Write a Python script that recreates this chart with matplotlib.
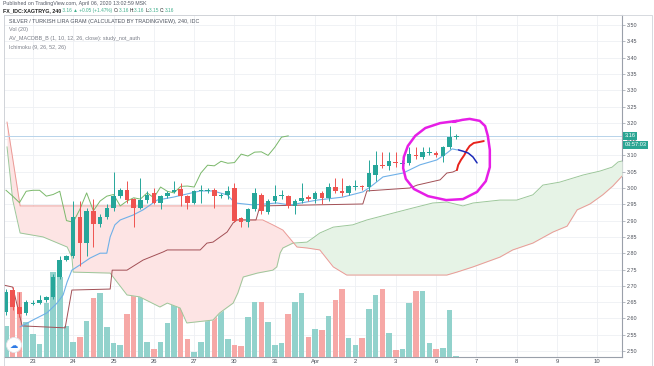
import numpy as np
import matplotlib
matplotlib.use("Agg")
import matplotlib.pyplot as plt
from matplotlib.patches import Ellipse, Rectangle
import matplotlib.transforms as mtransforms

plt.rcParams['font.family'] = ['Liberation Sans', 'DejaVu Sans']

# 4h candles, bar 0 = first visible bar (Mar 20)
opens = [2.620, 2.687, 2.635, 2.617, 2.645, 2.648, 2.655, 2.666, 2.727, 2.780,
         2.790, 2.910, 2.830, 2.930, 2.890, 2.910, 2.940, 2.975, 2.995, 2.965,
         2.940, 2.963, 2.985, 2.955, 2.975, 2.988, 2.997, 2.975, 2.955, 2.990,
         2.990, 2.995, 2.975, 2.980, 3.000, 2.908, 2.895, 2.935, 2.980, 2.925,
         2.960, 2.976, 2.975, 2.945, 2.960, 2.972, 2.966, 2.985, 2.968, 3.003,
         2.990, 2.985, 3.002, 3.006, 3.003, 3.040, 3.072, 3.066, 3.080, 3.075,
         3.077, 3.102, 3.095, 3.108, 3.108, 3.098, 3.125, 3.156]
closes = [2.680, 2.635, 2.615, 2.650, 2.648, 2.655, 2.666, 2.727, 2.780, 2.790,
          2.910, 2.830, 2.930, 2.890, 2.910, 2.940, 2.975, 2.995, 2.963, 2.940,
          2.963, 2.980, 2.955, 2.975, 2.985, 2.993, 2.975, 2.955, 2.990, 2.993,
          2.993, 2.975, 2.980, 2.990, 2.900, 2.895, 2.935, 2.985, 2.930, 2.960,
          2.975, 2.980, 2.945, 2.960, 2.970, 2.966, 2.985, 2.970, 3.003, 2.990,
          2.985, 3.005, 3.006, 3.003, 3.046, 3.070, 3.068, 3.082, 3.076, 3.078,
          3.104, 3.098, 3.110, 3.111, 3.100, 3.125, 3.156, 3.160]
highs = [2.690, 2.695, 2.680, 2.655, 2.655, 2.672, 2.670, 2.735, 2.790, 2.795,
         2.960, 2.960, 2.940, 2.965, 2.920, 2.950, 3.050, 3.000, 3.020, 2.970,
         3.030, 2.990, 3.000, 2.980, 2.990, 3.020, 3.015, 2.980, 2.995, 3.010,
         3.000, 3.000, 2.985, 3.005, 3.015, 2.910, 2.940, 3.000, 2.985, 2.965,
         3.010, 2.995, 2.980, 2.965, 3.015, 2.980, 2.990, 2.990, 3.015, 3.030,
         3.030, 3.010, 3.025, 3.010, 3.085, 3.115, 3.110, 3.110, 3.110, 3.085,
         3.125, 3.125, 3.125, 3.125, 3.115, 3.130, 3.190, 3.165]
lows = [2.610, 2.625, 2.605, 2.610, 2.640, 2.645, 2.650, 2.660, 2.720, 2.775,
        2.785, 2.760, 2.790, 2.820, 2.880, 2.905, 2.930, 2.970, 2.955, 2.880,
        2.935, 2.955, 2.950, 2.935, 2.970, 2.985, 2.945, 2.935, 2.950, 2.955,
        2.985, 2.940, 2.970, 2.965, 2.895, 2.880, 2.880, 2.930, 2.920, 2.920,
        2.955, 2.965, 2.940, 2.920, 2.955, 2.960, 2.955, 2.950, 2.960, 2.985,
        2.975, 2.980, 2.995, 2.995, 2.990, 3.020, 3.060, 3.055, 3.065, 3.060,
        3.070, 3.090, 3.090, 3.100, 3.095, 3.080, 3.120, 3.150]
volume = [31, 67, 65, 35, 23, 13, 54, 85, 80, 31,
          15, 20, 36, 59, 64, 30, 14, 12, 43, 65,
          80, 15, 8, 15, 34, 63, 59, 18, 5, 15,
          40, 48, 56, 18, 12, 11, 40, 55, 55, 35,
          12, 14, 43, 55, 64, 20, 28, 27, 41, 57,
          68, 19, 12, 19, 48, 62, 68, 24, 7, 8,
          54, 66, 66, 14, 8, 9, 47, 1]

day_labels = ["23", "24", "25", "26", "27", "30", "31", "Apr", "2", "3",
              "6", "7", "8", "9", "10"]
day_bars = [4, 10, 16, 22, 28, 34, 40, 46, 52, 58, 64, 70, 76, 82, 88]

# ichimoku lines, (bar, price)
tenkan_x = [2.1, 4.0, 6.1, 7.6, 8.5, 9.1, 9.8, 11.0, 12.5, 14.0, 15.0, 15.5, 16.2,
            17.0, 18.9, 20.4, 22.5, 24.9, 28.9, 30.8, 32.9, 34.1, 36.8, 40.3, 42.3,
            46.3, 50.1, 53.1, 54.2, 56.1, 59.1, 61.6, 64.1, 65.6, 66.4, 67.1]
tenkan = [2.574, 2.595, 2.617, 2.647, 2.672, 2.712, 2.748, 2.764, 2.785, 2.800, 2.800,
          2.850, 2.887, 2.902, 2.917, 2.933, 2.963, 2.972, 2.991, 2.991, 2.979, 2.954,
          2.948, 2.954, 2.948, 2.963, 2.972, 2.988, 3.003, 3.034, 3.046, 3.071, 3.086,
          3.107, 3.120, 3.117]
kijun_x = [-0.3, 1.0, 2.4, 8.8, 9.8, 15.5, 15.8, 18.0, 20.4, 23.4, 24.0, 28.9, 29.9,
           30.8, 32.9, 33.8, 34.4, 37.2, 37.8, 53.1, 53.7, 60.1, 61.2, 64.6, 65.6,
           66.5, 67.1]
kijun = [2.702, 2.696, 2.577, 2.571, 2.687, 2.690, 2.748, 2.748, 2.779, 2.804, 2.810,
         2.810, 2.831, 2.834, 2.865, 2.893, 2.902, 2.902, 2.945, 2.951, 2.991, 3.000,
         3.009, 3.025, 3.046, 3.049, 3.055]
span_a_x = [0.15, 1.0, 2.1, 5.5, 9.1, 9.8, 10.0, 15.5, 18.0, 19.9, 22.9, 24.0, 25.9,
            26.9, 30.8, 31.8, 33.8, 34.5, 35.3, 37.4, 39.7, 40.3, 40.8, 41.2, 42.7,
            44.8, 45.7, 46.7, 48.7, 51.6, 53.7, 57.6, 60.6, 63.5, 65.6, 68.0, 69.5,
            73.5, 76.0, 78.4, 79.9, 82.4, 85.9, 88.4, 90.2, 91.1, 91.7]
span_a = [3.126, 2.963, 2.862, 2.850, 2.819, 2.788, 2.742, 2.739, 2.672, 2.666, 2.635,
          2.647, 2.632, 2.586, 2.595, 2.617, 2.647, 2.678, 2.727, 2.739, 2.748, 2.758,
          2.801, 2.816, 2.831, 2.834, 2.847, 2.862, 2.880, 2.887, 2.902, 2.923, 2.939,
          2.954, 2.957, 2.945, 2.954, 2.963, 2.963, 2.979, 3.009, 3.018, 3.040, 3.052,
          3.064, 3.080, 3.083]
span_b_x = [0.15, 2.1, 34.1, 34.2, 38.2, 39.7, 41.2, 42.7, 43.3, 44.8, 46.7, 48.7,
            50.7, 65.6, 67.1, 69.5, 73.5, 75.4, 78.4, 81.4, 83.5, 85.0, 86.9, 88.8,
            90.3, 91.7]
span_b = [3.202, 2.945, 2.945, 2.902, 2.902, 2.887, 2.871, 2.834, 2.819, 2.816, 2.810,
          2.758, 2.733, 2.733, 2.742, 2.758, 2.788, 2.810, 2.831, 2.865, 2.883, 2.933,
          2.951, 2.979, 3.006, 3.037]
lag_shift = 25  # lagging span = close drawn 25 bars back

# hand drawn marks on the screenshot, (bar, price)
ring_x = [67.1, 64.6, 62.4, 60.9, 59.8, 59.2, 59.1, 59.5, 60.7, 62.8, 65.5, 68.0,
          70.1, 71.4, 72.0, 72.0, 71.7, 71.3, 70.5, 69.0, 67.9, 66.6]
ring_y = [3.206, 3.199, 3.184, 3.160, 3.129, 3.095, 3.061, 3.028, 2.997, 2.975, 2.963,
          2.966, 2.988, 3.021, 3.064, 3.117, 3.160, 3.190, 3.206, 3.212, 3.209, 3.203]
red_x = [67.1, 67.3, 67.7, 68.2, 68.6, 69.0, 69.6, 70.4, 71.1]
red_y = [3.055, 3.071, 3.086, 3.101, 3.117, 3.129, 3.138, 3.141, 3.144]
blue_x = [67.3, 68.0, 68.8, 69.5, 70.1]
blue_y = [3.117, 3.113, 3.107, 3.095, 3.077]

last_price = 3.16

UP, DOWN = "#26a69a", "#ef5350"
bars = np.arange(len(closes))
up = np.array(closes) >= np.array(opens)
cols = np.where(up, UP, DOWN)
vcols = np.where(up, "#92d2cc", "#f6a8a6")

W, H = 654, 366
fig = plt.figure(figsize=(W / 100, H / 100), dpi=100)
rect = [4 / W, 9 / H, 618 / W, 342 / H]
ax_bg = fig.add_axes(rect)
ax_vol = fig.add_axes(rect, sharex=ax_bg)
ax = fig.add_axes(rect, sharex=ax_bg)
for a in (ax_vol, ax):
    a.patch.set_visible(False)
    for s in a.spines.values():
        s.set_visible(False)

ylo, yhi = 2.4816, 3.5307
ax_bg.set_xlim(-0.30, 91.67)
ax_bg.set_ylim(ylo, yhi)
ax.set_ylim(ylo, yhi)

# grid
price_ticks = np.arange(2.50, 3.5001, 0.05)
for p in price_ticks:
    ax_bg.axhline(p, color="#eef0f4", lw=0.6, zorder=0)
for b in day_bars:
    ax_bg.axvline(b, color="#eef0f4", lw=0.6, zorder=0)
ax_bg.set_yticks([])
ax_bg.tick_params(axis="x", length=0, labelbottom=False)
for s in ("left", "top"):
    ax_bg.spines[s].set_color("#d0d3d9")
    ax_bg.spines[s].set_linewidth(0.6)
for s in ("right", "bottom"):
    ax_bg.spines[s].set_color("#9aa0aa")
    ax_bg.spines[s].set_linewidth(0.8)

# volume
ax_vol.bar(bars, volume, width=0.82, color=vcols, zorder=1)
ax_vol.set_ylim(0, 342)
ax_vol.set_yticks([])
ax_vol.tick_params(axis="x", length=0, labelbottom=False)

# cloud
grid_x = np.union1d(span_a_x, span_b_x)
a_i = np.interp(grid_x, span_a_x, span_a)
b_i = np.interp(grid_x, span_b_x, span_b)
ax.fill_between(grid_x, a_i, b_i, where=a_i >= b_i, interpolate=True,
                color="#e6f3e6", lw=0, zorder=1)
ax.fill_between(grid_x, a_i, b_i, where=a_i < b_i, interpolate=True,
                color="#fde4e4", lw=0, zorder=1)
ax.plot(span_a_x, span_a, color="#9cc79a", lw=0.7, zorder=2)
ax.plot(span_b_x, span_b, color="#eb9a96", lw=0.7, zorder=2)
ax.plot(bars[:len(closes) - lag_shift], closes[lag_shift:], color="#7ab86a", lw=0.7, zorder=3)
ax.plot(kijun_x, kijun, color="#a24f55", lw=0.7, zorder=3)
ax.plot(tenkan_x, tenkan, color="#6fb0e8", lw=0.8, zorder=3)

# last price line
ax.axhline(last_price, color="#b7d3ea", lw=0.7, zorder=2)

# candles
ax.vlines(bars, lows, highs, colors=cols, lw=0.7, zorder=4)
body_lo = np.minimum(opens, closes)
body_h = np.maximum(np.abs(np.array(closes) - np.array(opens)), 0.003)
ax.bar(bars, body_h, bottom=body_lo, width=0.68, color=cols, zorder=5)

# hand drawn marks
ax.plot(ring_x, ring_y, color="#e61ee6", lw=1.8, zorder=7, solid_capstyle="round")
ax.plot(red_x, red_y, color="#e8231c", lw=1.4, zorder=7, solid_capstyle="round")
ax.plot(blue_x, blue_y, color="#1c2bb8", lw=1.1, zorder=7, solid_capstyle="round")

# axes ticks
ax.yaxis.tick_right()
ax.set_yticks(price_ticks)
ax.set_yticklabels([f"{p:.2f}" for p in price_ticks])
ax.tick_params(axis="y", length=2.2, width=0.5, color="#9aa0aa", pad=1.5,
               labelsize=3.9, labelcolor="#4a4e58")
ax.set_xticks(day_bars)
ax.set_xticklabels(day_labels)
ax.tick_params(axis="x", length=0, pad=1.6, labelsize=4.2, labelcolor="#4a4e58")

# price tags
tr = mtransforms.blended_transform_factory(ax.transAxes, ax.transData)
ax.text(1.004, last_price, "3.16", transform=tr, fontsize=4.1, color="white",
        va="center", ha="left", clip_on=False, zorder=9,
        bbox=dict(boxstyle="square,pad=0.3", fc="#2aa593", ec="none"))
ax.text(1.004, last_price - 0.028, "03:57:03", transform=tr, fontsize=4.1,
        color="white", va="center", ha="left", clip_on=False, zorder=9,
        bbox=dict(boxstyle="square,pad=0.3", fc="#2aa593", ec="none"))

# outer frame of the screenshot
fig.add_artist(Rectangle((4 / W, -0.01), 648 / W, 1.01 - 15 / H, transform=fig.transFigure,
                         fill=False, ec="#d0d3d9", lw=0.6))

# header
fig.text(3 / W, 1 - 3.3 / H, "Published on TradingView.com, April 06, 2020 13:02:59 MSK",
         fontsize=3.8, color="#555a66", va="center", ha="left")
t = fig.text(3 / W, 1 - 10.8 / H, "FX_IDC:XAGTRYG, 240", fontsize=3.8, color="#222",
             fontweight="bold", va="center", ha="left")
parts = [(" 3.16 \u25b2 +0.05 (+1.47%) ", "#3fae8c"), ("O:", "#222"), ("3.16 ", "#3fae8c"),
         ("H:", "#222"), ("3.16 ", "#3fae8c"), ("L:", "#222"), ("3.15 ", "#3fae8c"),
         ("C:", "#222"), ("3.16", "#3fae8c")]
for txt, c in parts:
    t = ax.annotate(txt, xy=(1, 0.5), xycoords=t, va="center", ha="left",
                    fontsize=3.4, color=c, annotation_clip=False)

# legend lines
legend = ["SILVER / TURKISH LIRA GRAM (CALCULATED BY TRADINGVIEW), 240, IDC",
          "Vol (20)", "AV_MACDBB_B (1, 10, 12, 26, close): study_not_auth",
          "Ichimoku (9, 26, 52, 26)"]
for k, (line, ypx) in enumerate(zip(legend, [21.5, 30, 38.5, 47])):
    fig.text(9 / W, 1 - ypx / H, line, fontsize=3.9, va="center", ha="left",
             color="#4c525e" if k == 0 else "#7a7e88")

# tradingview logo
fig.add_artist(Ellipse((14 / W, 1 - 345 / H), 15 / W, 15 / H, transform=fig.transFigure,
                       fc="white", ec="#e3e6ea", lw=0.6, zorder=10))
fig.text(14 / W, 1 - 345 / H, "\u2601", fontsize=6, color="#2f7be5", ha="center",
         va="center", family=["DejaVu Sans"], zorder=11)

fig.savefig("out.png", dpi=100)
